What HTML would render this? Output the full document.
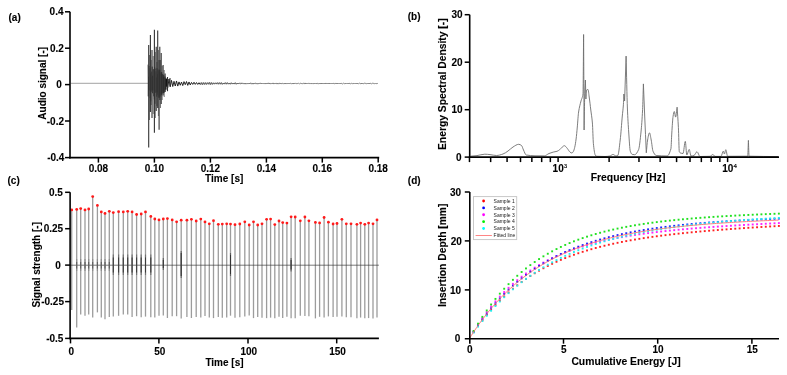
<!DOCTYPE html>
<html><head><meta charset="utf-8"><style>
html,body{margin:0;padding:0;background:#fff;}
svg{display:block;will-change:transform;font-family:"Liberation Sans",sans-serif;}
</style></head><body>
<svg width="787" height="375" viewBox="0 0 787 375">
<rect width="787" height="375" fill="#fff"/>
<text x="8.5" y="20.6" font-size="10" text-anchor="start" font-weight="bold" fill="#000" stroke="#000" stroke-width="0.1" >(a)</text>
<polyline points="70.8,83.3 148,83.3" fill="none" stroke="#8a8a8a" stroke-width="0.8" stroke-linejoin="round" />
<polyline points="166.5,79.35 167.75,87.56 169,79 170.25,86.77 171.5,80.39 172.75,86.52 174,81.31 175.25,86.02 176.5,80.98 177.75,86.08 179,81.91 180.25,85.24 181.5,82.08 182.75,85.58 184,81.63 185.25,84.68 186.5,81.54 187.75,85.37 189,81.96 190.25,84.95 191.5,82.45 192.75,84.41 194,82.26 195.25,84.38 196.5,82.56 197.75,84.45 199,82.71 200.25,84.54" fill="none" stroke="#1a1a1a" stroke-width="0.95" stroke-linejoin="round" />
<polyline points="200.25,84.54 201.25,82.5 202.25,84.72 203.25,82.49 204.25,84.56 205.25,82.54 206.25,84.53 207.25,82.59 208.25,84.3 209.25,82.34 210.25,84.64 211.25,82.46 212.25,84.46 213.25,82.74 214.25,84.2 215.25,82.78 216.25,84.11 217.25,82.58 218.25,84.25 219.25,82.56 220.25,84.22 221.25,82.54 222.25,84.4 223.25,82.97 224.25,84.11 225.25,82.6 226.25,84.21 227.25,82.59 228.25,84.16 229.25,82.98 230.25,84.24 231.25,82.71 232.25,84.09 233.25,82.99 234.25,84.1 235.25,82.67 236.25,84.25 237.25,83 238.25,84.04 239.25,83.01 240.25,83.97" fill="none" stroke="#2e2e2e" stroke-width="0.8" stroke-linejoin="round" />
<polyline points="240.25,83.97 241.05,82.77 241.85,84 242.65,82.86 243.45,84.09 244.25,83 245.05,84.18 245.85,83.03 246.65,84.14 247.45,83.04 248.25,84.06 249.05,83.01 249.85,84 250.65,82.77 251.45,84.17 252.25,82.99 253.05,84.19 253.85,83.03 254.65,84.03 255.45,82.83 256.25,84.1 257.05,83.08 257.85,84.2 258.65,83.04 259.45,83.97 260.25,82.87 261.05,83.98 261.85,83.03 262.65,83.9 263.45,83.1 264.25,84.05 265.05,83.05 265.85,84.05 266.65,83.02 267.45,84 268.25,82.85 269.05,84.01 269.85,82.97 270.65,84.12 271.45,83.09 272.25,83.9 273.05,82.88 273.85,84.09 274.65,83.07 275.45,83.91 276.25,82.94 277.05,84.12 277.85,83.1 278.65,84.12 279.45,82.9 280.25,84.01 281.05,83.04 281.85,83.87 282.65,83.15 283.45,84.11 284.25,83.1 285.05,84.03 285.85,83.09 286.65,84.06 287.45,83 288.25,83.91 289.05,83.12 289.85,84.03 290.65,83.15 291.45,83.89 292.25,83.02 293.05,84.06 293.85,83.01 294.65,83.9 295.45,82.93 296.25,83.88 297.05,83.17 297.85,83.89 298.65,83.06 299.45,83.84 300.25,83.13 301.05,83.91 301.85,83.03 302.65,83.85 303.45,83.09 304.25,84.05 305.05,82.93 305.85,83.98 306.65,83.01 307.45,83.96 308.25,83.15 309.05,83.82 309.85,83.18 310.65,84.04 311.45,83.01 312.25,84.05 313.05,83.19 313.85,83.97 314.65,83.07 315.45,83.99 316.25,83.11 317.05,84.06 317.85,83.18 318.65,83.94 319.45,83.01 320.25,84.03 321.05,83.01 321.85,83.98 322.65,83 323.45,84.03 324.25,83.11 325.05,83.97 325.85,82.98 326.65,84.01 327.45,83.1 328.25,83.99 329.05,82.99 329.85,83.94 330.65,83.05 331.45,83.89 332.25,83.06 333.05,83.94 333.85,83.18 334.65,83.95 335.45,82.96 336.25,84.01 337.05,83.03 337.85,83.89 338.65,83.03 339.45,83.93 340.25,83.1 341.05,83.99 341.85,83.19 342.65,83.97 343.45,83.2 344.25,83.94 345.05,83.09 345.85,83.85 346.65,83.04 347.45,83.91 348.25,83.06 349.05,84.01 349.85,83.15 350.65,83.79 351.45,83.14 352.25,83.95 353.05,83.16 353.85,83.83 354.65,83 355.45,83.94 356.25,83.11 357.05,84 357.85,83.14 358.65,83.94 359.45,83.17 360.25,83.89 361.05,83.02 361.85,84 362.65,83.01 363.45,83.88 364.25,83.08 365.05,83.86 365.85,83.18 366.65,83.9 367.45,83.02 368.25,83.98 369.05,83.05 369.85,84.01 370.65,83.15 371.45,83.82 372.25,83.11 373.05,83.85 373.85,83.17 374.65,83.88 375.45,83.07 376.25,83.9 377.05,83.14 377.85,83.98" fill="none" stroke="#555" stroke-width="0.7" stroke-linejoin="round" />
<polyline points="148,64.64 148.3,96.35 148.6,76.71 148.9,90.16 149.2,66.09 149.5,90.31 149.8,68.28 150.1,98.09 150.4,73.59 150.7,101.34 151,77.45 151.3,91.7 151.6,71.65 151.9,90.06 152.2,66.67 152.5,93.19 152.8,75.83 153.1,90.39 153.4,69.33 153.7,96.26 154,69.32 154.3,99.33 154.6,66.96 154.9,103.79 155.2,68.6 155.5,92.63 155.8,71.38 156.1,92.33 156.4,77.56 156.7,96.64 157,68.2 157.3,92.33 157.6,74.08 157.9,94.78" fill="none" stroke="#1e1e1e" stroke-width="0.65" stroke-linejoin="round" />
<polyline points="157.9,94.78 158.2,69.56 158.4,96.73 158.6,70.5 158.8,97.84 159,72.23 159.2,97.61 159.4,69.68 159.6,92.92 159.8,70.02 160,96.29 160.2,74.76 160.4,94.34 160.6,72.56 160.8,96.41 161,74.2 161.2,94.16 161.4,72.22 161.6,94.88 161.8,72.4 162,92.83 162.2,74.15 162.4,91.24 162.6,74.29 162.8,93.6 163,75.05 163.2,92.71 163.4,77.06 163.6,93 163.8,74.72 164,92.81 164.2,76.68 164.4,91.65 164.6,77.76 164.8,91.59 165,76.57 165.2,89.32 165.4,79.13 165.6,89.22 165.8,78.27 166,89.75 166.2,79.43 166.4,86.46 166.6,78.78 166.8,86.53 167,78.8" fill="none" stroke="#111" stroke-width="0.6" stroke-linejoin="round" />
<line x1="149.5" y1="55" x2="149.5" y2="120" stroke="#555" stroke-width="0.8" />
<line x1="151.2" y1="60" x2="151.2" y2="105" stroke="#555" stroke-width="0.8" />
<line x1="153.2" y1="56" x2="153.2" y2="114" stroke="#555" stroke-width="0.8" />
<line x1="155.3" y1="52" x2="155.3" y2="118" stroke="#555" stroke-width="0.8" />
<line x1="156.9" y1="62" x2="156.9" y2="106" stroke="#555" stroke-width="0.8" />
<line x1="158.4" y1="50" x2="158.4" y2="116" stroke="#555" stroke-width="0.8" />
<line x1="160.5" y1="60" x2="160.5" y2="108" stroke="#555" stroke-width="0.8" />
<line x1="162.2" y1="66" x2="162.2" y2="100" stroke="#555" stroke-width="0.8" />
<line x1="164.2" y1="70" x2="164.2" y2="97" stroke="#555" stroke-width="0.8" />
<line x1="148.7" y1="45" x2="148.7" y2="147.4" stroke="#333" stroke-width="1.1" />
<line x1="150.4" y1="35" x2="150.4" y2="112" stroke="#333" stroke-width="1.1" />
<line x1="152" y1="50" x2="152" y2="118" stroke="#333" stroke-width="1.1" />
<line x1="154.4" y1="29.8" x2="154.4" y2="132.7" stroke="#333" stroke-width="1.1" />
<line x1="156.2" y1="46.7" x2="156.2" y2="111" stroke="#333" stroke-width="1.1" />
<line x1="157.7" y1="30.6" x2="157.7" y2="108" stroke="#333" stroke-width="1.1" />
<line x1="159.1" y1="60" x2="159.1" y2="129.7" stroke="#333" stroke-width="1.1" />
<line x1="159.8" y1="46.7" x2="159.8" y2="100" stroke="#333" stroke-width="1.1" />
<line x1="161.2" y1="53" x2="161.2" y2="104" stroke="#333" stroke-width="1.1" />
<line x1="163.1" y1="65" x2="163.1" y2="95.4" stroke="#333" stroke-width="1.1" />
<line x1="165.1" y1="73.6" x2="165.1" y2="92" stroke="#333" stroke-width="1.1" />
<line x1="167.5" y1="77" x2="167.5" y2="91.2" stroke="#333" stroke-width="1.1" />
<line x1="170" y1="78" x2="170" y2="86.4" stroke="#333" stroke-width="1.1" />
<line x1="70" y1="11.8" x2="70" y2="158.4" stroke="#000" stroke-width="1.6" />
<line x1="69.2" y1="157.6" x2="379.2" y2="157.6" stroke="#000" stroke-width="1.6" />
<line x1="65" y1="11.8" x2="70" y2="11.8" stroke="#000" stroke-width="1.5" />
<text x="63.5" y="15.3" font-size="10" text-anchor="end" font-weight="bold" fill="#000" stroke="#000" stroke-width="0.1" >0.4</text>
<line x1="65" y1="48.2" x2="70" y2="48.2" stroke="#000" stroke-width="1.5" />
<text x="63.8" y="51.7" font-size="10" text-anchor="end" font-weight="bold" fill="#000" stroke="#000" stroke-width="0.1" >0.2</text>
<line x1="65" y1="84.6" x2="70" y2="84.6" stroke="#000" stroke-width="1.5" />
<text x="61.9" y="88.1" font-size="10" text-anchor="end" font-weight="bold" fill="#000" stroke="#000" stroke-width="0.1" >0</text>
<line x1="65" y1="121" x2="70" y2="121" stroke="#000" stroke-width="1.5" />
<text x="64" y="124.5" font-size="10" text-anchor="end" font-weight="bold" fill="#000" stroke="#000" stroke-width="0.1" >-0.2</text>
<line x1="65" y1="157.6" x2="70" y2="157.6" stroke="#000" stroke-width="1.5" />
<text x="64.4" y="161.1" font-size="10" text-anchor="end" font-weight="bold" fill="#000" stroke="#000" stroke-width="0.1" >-0.4</text>
<line x1="98.4" y1="157.6" x2="98.4" y2="162.6" stroke="#000" stroke-width="1.5" />
<text x="98.4" y="171.8" font-size="10" text-anchor="middle" font-weight="bold" fill="#000" stroke="#000" stroke-width="0.1" >0.08</text>
<line x1="154.4" y1="157.6" x2="154.4" y2="162.6" stroke="#000" stroke-width="1.5" />
<text x="154.4" y="171.8" font-size="10" text-anchor="middle" font-weight="bold" fill="#000" stroke="#000" stroke-width="0.1" >0.10</text>
<line x1="210.4" y1="157.6" x2="210.4" y2="162.6" stroke="#000" stroke-width="1.5" />
<text x="210.4" y="171.8" font-size="10" text-anchor="middle" font-weight="bold" fill="#000" stroke="#000" stroke-width="0.1" >0.12</text>
<line x1="266.4" y1="157.6" x2="266.4" y2="162.6" stroke="#000" stroke-width="1.5" />
<text x="266.4" y="171.8" font-size="10" text-anchor="middle" font-weight="bold" fill="#000" stroke="#000" stroke-width="0.1" >0.14</text>
<line x1="322.3" y1="157.6" x2="322.3" y2="162.6" stroke="#000" stroke-width="1.5" />
<text x="322.3" y="171.8" font-size="10" text-anchor="middle" font-weight="bold" fill="#000" stroke="#000" stroke-width="0.1" >0.16</text>
<line x1="378.2" y1="157.6" x2="378.2" y2="162.6" stroke="#000" stroke-width="1.5" />
<text x="378.2" y="171.8" font-size="10" text-anchor="middle" font-weight="bold" fill="#000" stroke="#000" stroke-width="0.1" >0.18</text>
<text x="224.2" y="182" font-size="10" text-anchor="middle" font-weight="bold" fill="#000" stroke="#000" stroke-width="0.1" >Time [s]</text>
<text x="46.2" y="83.3" font-size="10" text-anchor="middle" font-weight="bold" fill="#000" stroke="#000" stroke-width="0.1" transform="rotate(-90 46.2 83.3)" >Audio signal [-]</text>
<text x="407.7" y="20.2" font-size="10" text-anchor="start" font-weight="bold" fill="#000" stroke="#000" stroke-width="0.1" >(b)</text>
<path d="M470.5,156.2 C472.67,156 474.83,155.86 477,155.6 C479.6,155.28 482.2,154.2 484.8,154.2 C486.53,154.2 488.27,154.43 490,154.6 C492.13,154.81 494.27,155.5 496.4,155.5 C498.6,155.5 500.8,154.73 503,154 C504.67,153.45 506.33,152.14 508,151 C509.67,149.86 511.33,147.99 513,147 C514.9,145.87 516.8,144.3 518.7,144.3 C519.63,144.3 520.57,144.83 521.5,145.5 C522.17,145.98 522.83,148.65 523.5,150 C524.4,151.83 525.3,154.84 526.2,155 C529.13,155.51 532.07,155.74 535,155.8 C538.1,155.86 541.2,155.9 544.3,155.9 C545.87,155.9 547.43,154.13 549,153.5 C550.4,152.94 551.8,152.46 553.2,152.1 C554.47,151.77 555.73,151.69 557,151.3 C557.9,151.02 558.8,150.38 559.7,149.7 C560.5,149.1 561.3,147.84 562.1,147.2 C562.87,146.59 563.63,145.7 564.4,145.7 C565.33,145.7 566.27,147.27 567.2,148.3 C568.13,149.33 569.07,151.44 570,152.1 C570.63,152.54 571.27,153 571.9,153 C572.37,153 572.83,152.3 573.3,151.6 C573.77,150.9 574.23,149.27 574.7,147.4 C575.17,145.53 575.63,142.5 576.1,139 C576.5,136 576.9,131.29 577.3,127 C577.73,122.36 578.17,114.84 578.6,112 C579.4,106.75 580.2,104.18 581,101 C581.67,98.35 582.33,98.51 583,94 C583.2,92.65 583.4,54.33 583.6,34.5 C583.77,66.33 583.93,98.17 584.1,130 C584.3,118.67 584.5,102.51 584.7,96 C584.93,88.4 585.17,85.33 585.4,80 C585.57,86.33 585.73,92.67 585.9,99 C586.13,96 586.37,90.16 586.6,90 C587.07,89.68 587.53,89.5 588,89.5 C588.4,89.5 588.8,94.17 589.2,97 C589.73,100.77 590.27,105.67 590.8,110 C591.33,114.33 591.87,116.78 592.4,123 C592.73,126.89 593.07,140.51 593.4,143.7 C594,149.44 594.6,153.87 595.2,154.9 C595.67,155.7 596.13,156.28 596.6,156.3 C599.4,156.43 602.2,156.5 605,156.5 C606.67,156.5 608.33,156.28 610,156 C611,155.83 612,154.4 613,154.4 C614,154.4 615,156 616,156 C616.6,156 617.2,155.82 617.8,155.5 C618.6,155.07 619.4,146.6 620.2,140 C620.9,134.22 621.6,123.54 622.3,116 C622.67,112.05 623.03,109.87 623.4,104.8 C623.57,102.49 623.73,97.6 623.9,94 C624.13,96.33 624.37,98.67 624.6,101 C625.1,86.03 625.6,71.07 626.1,56.1 C626.53,73.4 626.97,97.06 627.4,108 C627.83,118.94 628.27,125.7 628.7,132 C629.23,139.76 629.77,149.62 630.3,151.2 C630.93,153.07 631.57,154.26 632.2,154.4 C633.03,154.59 633.87,154.7 634.7,154.7 C636,154.7 637.3,152.49 638.6,149.6 C639.4,147.82 640.2,139.7 641,132 C641.53,126.87 642.07,120 642.6,109.6 C642.87,104.4 643.13,92.47 643.4,83.9 C643.83,94.6 644.27,105.68 644.7,116 C645.23,128.7 645.77,140.53 646.3,152.8 C646.73,148.53 647.17,142.37 647.6,140 C648.23,136.53 648.87,132.8 649.5,132.8 C650.07,132.8 650.63,137.14 651.2,140 C651.8,143.02 652.4,149.87 653,151.2 C654.07,153.56 655.13,155.41 656.2,155.5 C659.83,155.82 663.47,156 667.1,156 C668.37,156 669.63,153.18 670.9,148.9 C671.2,147.89 671.5,137.48 671.8,133 C672.23,126.53 672.67,118.8 673.1,116.2 C673.5,113.8 673.9,111.5 674.3,111.5 C674.73,111.5 675.17,117.1 675.6,117.1 C676.1,117.1 676.6,110.5 677.1,107.2 C677.53,113.93 677.97,118.85 678.4,127.4 C678.7,133.32 679,151.08 679.3,151.7 C679.7,152.53 680.1,152.86 680.5,153 C681.33,153.28 682.17,153.5 683,153.5 C683.77,153.5 684.53,141.4 685.3,141.4 C685.8,141.4 686.3,155 686.8,155 C687.6,155 688.4,149.4 689.2,149.4 C689.8,149.4 690.4,156 691,156 C692,156 693,155.79 694,155.5 C695,155.21 696,151.7 697,151.7 C698,151.7 699,156.5 700,156.5 C703.33,156.5 706.67,156.43 710,156.3 C710.97,156.26 711.93,154.5 712.9,154.5 C713.6,154.5 714.3,156.4 715,156.4 C717,156.4 719,156.4 721,156.4 C721.77,156.4 722.53,151.1 723.3,151.1 C723.67,151.1 724.03,154 724.4,154 C724.87,154 725.33,149.7 725.8,149.7 C726.4,149.7 727,156.3 727.6,156.3 C734.3,156.3 741,156.27 747.7,156.2 C747.93,156.2 748.17,145.67 748.4,140.4 C748.63,145.67 748.87,156.19 749.1,156.2 C758.73,156.47 768.37,156.47 778,156.6" fill="none" stroke="#6e6e6e" stroke-width="0.9" stroke-linejoin="round"/>
<line x1="469.7" y1="14.7" x2="469.7" y2="157.9" stroke="#000" stroke-width="1.6" />
<line x1="468.9" y1="157.1" x2="779" y2="157.1" stroke="#000" stroke-width="1.6" />
<line x1="464.7" y1="14.7" x2="469.7" y2="14.7" stroke="#000" stroke-width="1.5" />
<text x="462.7" y="18.2" font-size="10" text-anchor="end" font-weight="bold" fill="#000" stroke="#000" stroke-width="0.1" >30</text>
<line x1="464.7" y1="62.2" x2="469.7" y2="62.2" stroke="#000" stroke-width="1.5" />
<text x="462.7" y="65.7" font-size="10" text-anchor="end" font-weight="bold" fill="#000" stroke="#000" stroke-width="0.1" >20</text>
<line x1="464.7" y1="109.7" x2="469.7" y2="109.7" stroke="#000" stroke-width="1.5" />
<text x="462.7" y="113.2" font-size="10" text-anchor="end" font-weight="bold" fill="#000" stroke="#000" stroke-width="0.1" >10</text>
<line x1="464.7" y1="157.1" x2="469.7" y2="157.1" stroke="#000" stroke-width="1.5" />
<text x="461.6" y="160.6" font-size="10" text-anchor="end" font-weight="bold" fill="#000" stroke="#000" stroke-width="0.1" >0</text>
<line x1="469.47" y1="157.1" x2="469.47" y2="162.1" stroke="#000" stroke-width="1.5" />
<line x1="490.65" y1="157.1" x2="490.65" y2="162.1" stroke="#000" stroke-width="1.5" />
<line x1="507.08" y1="157.1" x2="507.08" y2="162.1" stroke="#000" stroke-width="1.5" />
<line x1="520.5" y1="157.1" x2="520.5" y2="162.1" stroke="#000" stroke-width="1.5" />
<line x1="531.84" y1="157.1" x2="531.84" y2="162.1" stroke="#000" stroke-width="1.5" />
<line x1="541.67" y1="157.1" x2="541.67" y2="162.1" stroke="#000" stroke-width="1.5" />
<line x1="550.34" y1="157.1" x2="550.34" y2="162.1" stroke="#000" stroke-width="1.5" />
<line x1="558.1" y1="157.1" x2="558.1" y2="162.1" stroke="#000" stroke-width="1.5" />
<line x1="609.12" y1="157.1" x2="609.12" y2="162.1" stroke="#000" stroke-width="1.5" />
<line x1="638.97" y1="157.1" x2="638.97" y2="162.1" stroke="#000" stroke-width="1.5" />
<line x1="660.15" y1="157.1" x2="660.15" y2="162.1" stroke="#000" stroke-width="1.5" />
<line x1="676.58" y1="157.1" x2="676.58" y2="162.1" stroke="#000" stroke-width="1.5" />
<line x1="690" y1="157.1" x2="690" y2="162.1" stroke="#000" stroke-width="1.5" />
<line x1="701.34" y1="157.1" x2="701.34" y2="162.1" stroke="#000" stroke-width="1.5" />
<line x1="711.17" y1="157.1" x2="711.17" y2="162.1" stroke="#000" stroke-width="1.5" />
<line x1="719.84" y1="157.1" x2="719.84" y2="162.1" stroke="#000" stroke-width="1.5" />
<line x1="727.6" y1="157.1" x2="727.6" y2="162.1" stroke="#000" stroke-width="1.5" />
<text x="552.6" y="172.1" font-size="10" text-anchor="start" font-weight="bold" fill="#000" stroke="#000" stroke-width="0.1" >10<tspan font-size="6.2" font-weight="normal" stroke-width="0.15" dy="-3.7">3</tspan></text>
<text x="722.3" y="172.1" font-size="10" text-anchor="start" font-weight="bold" fill="#000" stroke="#000" stroke-width="0.1" >10<tspan font-size="6.2" font-weight="normal" stroke-width="0.15" dy="-3.7">4</tspan></text>
<text x="628.1" y="181.2" font-size="10.35" text-anchor="middle" font-weight="bold" fill="#000" stroke="#000" stroke-width="0.1" >Frequency [Hz]</text>
<text x="445.9" y="84.2" font-size="10.3" text-anchor="middle" font-weight="bold" fill="#000" stroke="#000" stroke-width="0.1" transform="rotate(-90 445.9 84.2)" >Energy Spectral Density [-]</text>
<text x="7.5" y="184.2" font-size="10" text-anchor="start" font-weight="bold" fill="#000" stroke="#000" stroke-width="0.1" >(c)</text>
<line x1="71.7" y1="209.9" x2="71.7" y2="310" stroke="#9c9c9c" stroke-width="1.3" />
<line x1="76.7" y1="209.4" x2="76.7" y2="327.5" stroke="#9c9c9c" stroke-width="1.3" />
<line x1="80.7" y1="208.6" x2="80.7" y2="314.6" stroke="#9c9c9c" stroke-width="1.3" />
<line x1="85" y1="209.9" x2="85" y2="315.8" stroke="#9c9c9c" stroke-width="1.3" />
<line x1="88.7" y1="209" x2="88.7" y2="314.6" stroke="#9c9c9c" stroke-width="1.3" />
<line x1="92.7" y1="196.6" x2="92.7" y2="317.6" stroke="#9c9c9c" stroke-width="1.3" />
<line x1="97.4" y1="205.4" x2="97.4" y2="312.4" stroke="#9c9c9c" stroke-width="1.3" />
<line x1="101.3" y1="211.9" x2="101.3" y2="317.6" stroke="#9c9c9c" stroke-width="1.3" />
<line x1="105" y1="213.4" x2="105" y2="319.2" stroke="#9c9c9c" stroke-width="1.3" />
<line x1="109.3" y1="211.3" x2="109.3" y2="316.9" stroke="#9c9c9c" stroke-width="1.3" />
<line x1="113.3" y1="212.6" x2="113.3" y2="316.4" stroke="#9c9c9c" stroke-width="1.3" />
<line x1="118.6" y1="211.7" x2="118.6" y2="315.8" stroke="#9c9c9c" stroke-width="1.3" />
<line x1="123.3" y1="211.9" x2="123.3" y2="314.6" stroke="#9c9c9c" stroke-width="1.3" />
<line x1="127.7" y1="211.3" x2="127.7" y2="314.6" stroke="#9c9c9c" stroke-width="1.3" />
<line x1="132.1" y1="211.9" x2="132.1" y2="316.9" stroke="#9c9c9c" stroke-width="1.3" />
<line x1="136.6" y1="214.5" x2="136.6" y2="316.21" stroke="#9c9c9c" stroke-width="1.3" />
<line x1="141.2" y1="214" x2="141.2" y2="317.13" stroke="#9c9c9c" stroke-width="1.3" />
<line x1="145.5" y1="211.9" x2="145.5" y2="316.61" stroke="#9c9c9c" stroke-width="1.3" />
<line x1="150.8" y1="216.4" x2="150.8" y2="317.31" stroke="#9c9c9c" stroke-width="1.3" />
<line x1="154.8" y1="219" x2="154.8" y2="317.38" stroke="#9c9c9c" stroke-width="1.3" />
<line x1="159" y1="219.9" x2="159" y2="315.7" stroke="#9c9c9c" stroke-width="1.3" />
<line x1="163.3" y1="219" x2="163.3" y2="315.54" stroke="#9c9c9c" stroke-width="1.3" />
<line x1="167.4" y1="218.6" x2="167.4" y2="318.01" stroke="#9c9c9c" stroke-width="1.3" />
<line x1="172.2" y1="219.9" x2="172.2" y2="316.28" stroke="#9c9c9c" stroke-width="1.3" />
<line x1="176.6" y1="221.8" x2="176.6" y2="316.2" stroke="#9c9c9c" stroke-width="1.3" />
<line x1="181.2" y1="220.2" x2="181.2" y2="318.49" stroke="#9c9c9c" stroke-width="1.3" />
<line x1="186.9" y1="220.2" x2="186.9" y2="316.91" stroke="#9c9c9c" stroke-width="1.3" />
<line x1="191.4" y1="219.3" x2="191.4" y2="318.01" stroke="#9c9c9c" stroke-width="1.3" />
<line x1="196.2" y1="221" x2="196.2" y2="316.93" stroke="#9c9c9c" stroke-width="1.3" />
<line x1="200.8" y1="219.1" x2="200.8" y2="317.42" stroke="#9c9c9c" stroke-width="1.3" />
<line x1="205" y1="221.9" x2="205" y2="315.95" stroke="#9c9c9c" stroke-width="1.3" />
<line x1="209.3" y1="223.8" x2="209.3" y2="317.4" stroke="#9c9c9c" stroke-width="1.3" />
<line x1="213.5" y1="220.7" x2="213.5" y2="318.1" stroke="#9c9c9c" stroke-width="1.3" />
<line x1="218.3" y1="224.3" x2="218.3" y2="317.07" stroke="#9c9c9c" stroke-width="1.3" />
<line x1="222.3" y1="224.1" x2="222.3" y2="317.72" stroke="#9c9c9c" stroke-width="1.3" />
<line x1="226.7" y1="223.8" x2="226.7" y2="317.51" stroke="#9c9c9c" stroke-width="1.3" />
<line x1="230.5" y1="224.1" x2="230.5" y2="315.69" stroke="#9c9c9c" stroke-width="1.3" />
<line x1="235" y1="224.7" x2="235" y2="317.77" stroke="#9c9c9c" stroke-width="1.3" />
<line x1="239.8" y1="224" x2="239.8" y2="317.27" stroke="#9c9c9c" stroke-width="1.3" />
<line x1="244.8" y1="221.8" x2="244.8" y2="316.4" stroke="#9c9c9c" stroke-width="1.3" />
<line x1="249.2" y1="225" x2="249.2" y2="315.59" stroke="#9c9c9c" stroke-width="1.3" />
<line x1="253.5" y1="221.8" x2="253.5" y2="318.1" stroke="#9c9c9c" stroke-width="1.3" />
<line x1="257.7" y1="225" x2="257.7" y2="316.92" stroke="#9c9c9c" stroke-width="1.3" />
<line x1="262" y1="223.8" x2="262" y2="317.66" stroke="#9c9c9c" stroke-width="1.3" />
<line x1="266.6" y1="219.3" x2="266.6" y2="318.14" stroke="#9c9c9c" stroke-width="1.3" />
<line x1="270.6" y1="219.1" x2="270.6" y2="317.64" stroke="#9c9c9c" stroke-width="1.3" />
<line x1="274.8" y1="224.6" x2="274.8" y2="318.26" stroke="#9c9c9c" stroke-width="1.3" />
<line x1="279" y1="221" x2="279" y2="316.68" stroke="#9c9c9c" stroke-width="1.3" />
<line x1="282.7" y1="222.6" x2="282.7" y2="317.9" stroke="#9c9c9c" stroke-width="1.3" />
<line x1="286.9" y1="223.1" x2="286.9" y2="316.83" stroke="#9c9c9c" stroke-width="1.3" />
<line x1="291.1" y1="216.8" x2="291.1" y2="318.31" stroke="#9c9c9c" stroke-width="1.3" />
<line x1="295.2" y1="217" x2="295.2" y2="318.14" stroke="#9c9c9c" stroke-width="1.3" />
<line x1="300.3" y1="220.8" x2="300.3" y2="315.79" stroke="#9c9c9c" stroke-width="1.3" />
<line x1="304.9" y1="217" x2="304.9" y2="315.91" stroke="#9c9c9c" stroke-width="1.3" />
<line x1="308.9" y1="220.8" x2="308.9" y2="316.15" stroke="#9c9c9c" stroke-width="1.3" />
<line x1="315.4" y1="222.4" x2="315.4" y2="318.4" stroke="#9c9c9c" stroke-width="1.3" />
<line x1="319.6" y1="222.9" x2="319.6" y2="316.81" stroke="#9c9c9c" stroke-width="1.3" />
<line x1="324.1" y1="217.5" x2="324.1" y2="317.38" stroke="#9c9c9c" stroke-width="1.3" />
<line x1="328.4" y1="222.2" x2="328.4" y2="316.4" stroke="#9c9c9c" stroke-width="1.3" />
<line x1="333.1" y1="224" x2="333.1" y2="317.02" stroke="#9c9c9c" stroke-width="1.3" />
<line x1="337" y1="223.5" x2="337" y2="316.66" stroke="#9c9c9c" stroke-width="1.3" />
<line x1="341.9" y1="219.3" x2="341.9" y2="316.55" stroke="#9c9c9c" stroke-width="1.3" />
<line x1="346.3" y1="223.8" x2="346.3" y2="317.26" stroke="#9c9c9c" stroke-width="1.3" />
<line x1="351" y1="223.8" x2="351" y2="317.25" stroke="#9c9c9c" stroke-width="1.3" />
<line x1="356.9" y1="224.3" x2="356.9" y2="318.21" stroke="#9c9c9c" stroke-width="1.3" />
<line x1="360.6" y1="223.1" x2="360.6" y2="317.55" stroke="#9c9c9c" stroke-width="1.3" />
<line x1="364.8" y1="224.3" x2="364.8" y2="318.29" stroke="#9c9c9c" stroke-width="1.3" />
<line x1="368.6" y1="223.1" x2="368.6" y2="318.07" stroke="#9c9c9c" stroke-width="1.3" />
<line x1="373" y1="223.8" x2="373" y2="318.47" stroke="#9c9c9c" stroke-width="1.3" />
<line x1="377" y1="219.9" x2="377" y2="317.51" stroke="#9c9c9c" stroke-width="1.3" />
<line x1="70.1" y1="265.2" x2="378.9" y2="265.2" stroke="#333" stroke-width="0.65" />
<line x1="76.7" y1="259" x2="76.7" y2="271" stroke="#8a8a8a" stroke-width="1.1" />
<line x1="76.7" y1="262" x2="76.7" y2="268.5" stroke="#5a5a5a" stroke-width="1.0" />
<line x1="80.7" y1="259" x2="80.7" y2="271" stroke="#8a8a8a" stroke-width="1.1" />
<line x1="80.7" y1="262" x2="80.7" y2="268.5" stroke="#5a5a5a" stroke-width="1.0" />
<line x1="85" y1="259" x2="85" y2="271" stroke="#8a8a8a" stroke-width="1.1" />
<line x1="85" y1="262" x2="85" y2="268.5" stroke="#5a5a5a" stroke-width="1.0" />
<line x1="88.7" y1="259" x2="88.7" y2="271" stroke="#8a8a8a" stroke-width="1.1" />
<line x1="88.7" y1="262" x2="88.7" y2="268.5" stroke="#5a5a5a" stroke-width="1.0" />
<line x1="92.7" y1="259" x2="92.7" y2="271" stroke="#8a8a8a" stroke-width="1.1" />
<line x1="92.7" y1="262" x2="92.7" y2="268.5" stroke="#5a5a5a" stroke-width="1.0" />
<line x1="97.4" y1="259" x2="97.4" y2="271" stroke="#8a8a8a" stroke-width="1.1" />
<line x1="97.4" y1="262" x2="97.4" y2="268.5" stroke="#5a5a5a" stroke-width="1.0" />
<line x1="101.3" y1="259" x2="101.3" y2="271" stroke="#8a8a8a" stroke-width="1.1" />
<line x1="101.3" y1="262" x2="101.3" y2="268.5" stroke="#5a5a5a" stroke-width="1.0" />
<line x1="105" y1="259" x2="105" y2="271" stroke="#8a8a8a" stroke-width="1.1" />
<line x1="105" y1="262" x2="105" y2="268.5" stroke="#5a5a5a" stroke-width="1.0" />
<line x1="109.3" y1="259" x2="109.3" y2="271" stroke="#8a8a8a" stroke-width="1.1" />
<line x1="109.3" y1="262" x2="109.3" y2="268.5" stroke="#5a5a5a" stroke-width="1.0" />
<line x1="113.3" y1="254.5" x2="113.3" y2="275" stroke="#707070" stroke-width="1.1" />
<line x1="113.3" y1="257.5" x2="113.3" y2="272.5" stroke="#3a3a3a" stroke-width="1.0" />
<line x1="118.6" y1="254.5" x2="118.6" y2="275" stroke="#707070" stroke-width="1.1" />
<line x1="118.6" y1="257.5" x2="118.6" y2="272.5" stroke="#3a3a3a" stroke-width="1.0" />
<line x1="123.3" y1="254.5" x2="123.3" y2="275" stroke="#707070" stroke-width="1.1" />
<line x1="123.3" y1="257.5" x2="123.3" y2="272.5" stroke="#3a3a3a" stroke-width="1.0" />
<line x1="127.7" y1="254.5" x2="127.7" y2="275" stroke="#707070" stroke-width="1.1" />
<line x1="127.7" y1="257.5" x2="127.7" y2="272.5" stroke="#3a3a3a" stroke-width="1.0" />
<line x1="132.1" y1="254.5" x2="132.1" y2="275" stroke="#707070" stroke-width="1.1" />
<line x1="132.1" y1="257.5" x2="132.1" y2="272.5" stroke="#3a3a3a" stroke-width="1.0" />
<line x1="136.6" y1="254.5" x2="136.6" y2="275" stroke="#707070" stroke-width="1.1" />
<line x1="136.6" y1="257.5" x2="136.6" y2="272.5" stroke="#3a3a3a" stroke-width="1.0" />
<line x1="141.2" y1="254.5" x2="141.2" y2="275" stroke="#707070" stroke-width="1.1" />
<line x1="141.2" y1="257.5" x2="141.2" y2="272.5" stroke="#3a3a3a" stroke-width="1.0" />
<line x1="145.5" y1="254.5" x2="145.5" y2="275" stroke="#707070" stroke-width="1.1" />
<line x1="145.5" y1="257.5" x2="145.5" y2="272.5" stroke="#3a3a3a" stroke-width="1.0" />
<line x1="150.8" y1="254.5" x2="150.8" y2="275" stroke="#707070" stroke-width="1.1" />
<line x1="150.8" y1="257.5" x2="150.8" y2="272.5" stroke="#3a3a3a" stroke-width="1.0" />
<line x1="163.3" y1="258" x2="163.3" y2="270" stroke="#606060" stroke-width="1.1" />
<line x1="163.3" y1="260" x2="163.3" y2="268" stroke="#333" stroke-width="1.0" />
<line x1="181.2" y1="251" x2="181.2" y2="278" stroke="#606060" stroke-width="1.1" />
<line x1="181.2" y1="253" x2="181.2" y2="276" stroke="#333" stroke-width="1.0" />
<line x1="230.5" y1="253" x2="230.5" y2="276" stroke="#606060" stroke-width="1.1" />
<line x1="230.5" y1="255" x2="230.5" y2="274" stroke="#333" stroke-width="1.0" />
<line x1="291.1" y1="258" x2="291.1" y2="271.5" stroke="#606060" stroke-width="1.1" />
<line x1="291.1" y1="260" x2="291.1" y2="269.5" stroke="#333" stroke-width="1.0" />
<circle cx="71.7" cy="209.9" r="1.4" fill="#ff1a1a"/>
<circle cx="76.7" cy="209.4" r="1.4" fill="#ff1a1a"/>
<circle cx="80.7" cy="208.6" r="1.4" fill="#ff1a1a"/>
<circle cx="85" cy="209.9" r="1.4" fill="#ff1a1a"/>
<circle cx="88.7" cy="209" r="1.4" fill="#ff1a1a"/>
<circle cx="92.7" cy="196.6" r="1.4" fill="#ff1a1a"/>
<circle cx="97.4" cy="205.4" r="1.4" fill="#ff1a1a"/>
<circle cx="101.3" cy="211.9" r="1.4" fill="#ff1a1a"/>
<circle cx="105" cy="213.4" r="1.4" fill="#ff1a1a"/>
<circle cx="109.3" cy="211.3" r="1.4" fill="#ff1a1a"/>
<circle cx="113.3" cy="212.6" r="1.4" fill="#ff1a1a"/>
<circle cx="118.6" cy="211.7" r="1.4" fill="#ff1a1a"/>
<circle cx="123.3" cy="211.9" r="1.4" fill="#ff1a1a"/>
<circle cx="127.7" cy="211.3" r="1.4" fill="#ff1a1a"/>
<circle cx="132.1" cy="211.9" r="1.4" fill="#ff1a1a"/>
<circle cx="136.6" cy="214.5" r="1.4" fill="#ff1a1a"/>
<circle cx="141.2" cy="214" r="1.4" fill="#ff1a1a"/>
<circle cx="145.5" cy="211.9" r="1.4" fill="#ff1a1a"/>
<circle cx="150.8" cy="216.4" r="1.4" fill="#ff1a1a"/>
<circle cx="154.8" cy="219" r="1.4" fill="#ff1a1a"/>
<circle cx="159" cy="219.9" r="1.4" fill="#ff1a1a"/>
<circle cx="163.3" cy="219" r="1.4" fill="#ff1a1a"/>
<circle cx="167.4" cy="218.6" r="1.4" fill="#ff1a1a"/>
<circle cx="172.2" cy="219.9" r="1.4" fill="#ff1a1a"/>
<circle cx="176.6" cy="221.8" r="1.4" fill="#ff1a1a"/>
<circle cx="181.2" cy="220.2" r="1.4" fill="#ff1a1a"/>
<circle cx="186.9" cy="220.2" r="1.4" fill="#ff1a1a"/>
<circle cx="191.4" cy="219.3" r="1.4" fill="#ff1a1a"/>
<circle cx="196.2" cy="221" r="1.4" fill="#ff1a1a"/>
<circle cx="200.8" cy="219.1" r="1.4" fill="#ff1a1a"/>
<circle cx="205" cy="221.9" r="1.4" fill="#ff1a1a"/>
<circle cx="209.3" cy="223.8" r="1.4" fill="#ff1a1a"/>
<circle cx="213.5" cy="220.7" r="1.4" fill="#ff1a1a"/>
<circle cx="218.3" cy="224.3" r="1.4" fill="#ff1a1a"/>
<circle cx="222.3" cy="224.1" r="1.4" fill="#ff1a1a"/>
<circle cx="226.7" cy="223.8" r="1.4" fill="#ff1a1a"/>
<circle cx="230.5" cy="224.1" r="1.4" fill="#ff1a1a"/>
<circle cx="235" cy="224.7" r="1.4" fill="#ff1a1a"/>
<circle cx="239.8" cy="224" r="1.4" fill="#ff1a1a"/>
<circle cx="244.8" cy="221.8" r="1.4" fill="#ff1a1a"/>
<circle cx="249.2" cy="225" r="1.4" fill="#ff1a1a"/>
<circle cx="253.5" cy="221.8" r="1.4" fill="#ff1a1a"/>
<circle cx="257.7" cy="225" r="1.4" fill="#ff1a1a"/>
<circle cx="262" cy="223.8" r="1.4" fill="#ff1a1a"/>
<circle cx="266.6" cy="219.3" r="1.4" fill="#ff1a1a"/>
<circle cx="270.6" cy="219.1" r="1.4" fill="#ff1a1a"/>
<circle cx="274.8" cy="224.6" r="1.4" fill="#ff1a1a"/>
<circle cx="279" cy="221" r="1.4" fill="#ff1a1a"/>
<circle cx="282.7" cy="222.6" r="1.4" fill="#ff1a1a"/>
<circle cx="286.9" cy="223.1" r="1.4" fill="#ff1a1a"/>
<circle cx="291.1" cy="216.8" r="1.4" fill="#ff1a1a"/>
<circle cx="295.2" cy="217" r="1.4" fill="#ff1a1a"/>
<circle cx="300.3" cy="220.8" r="1.4" fill="#ff1a1a"/>
<circle cx="304.9" cy="217" r="1.4" fill="#ff1a1a"/>
<circle cx="308.9" cy="220.8" r="1.4" fill="#ff1a1a"/>
<circle cx="315.4" cy="222.4" r="1.4" fill="#ff1a1a"/>
<circle cx="319.6" cy="222.9" r="1.4" fill="#ff1a1a"/>
<circle cx="324.1" cy="217.5" r="1.4" fill="#ff1a1a"/>
<circle cx="328.4" cy="222.2" r="1.4" fill="#ff1a1a"/>
<circle cx="333.1" cy="224" r="1.4" fill="#ff1a1a"/>
<circle cx="337" cy="223.5" r="1.4" fill="#ff1a1a"/>
<circle cx="341.9" cy="219.3" r="1.4" fill="#ff1a1a"/>
<circle cx="346.3" cy="223.8" r="1.4" fill="#ff1a1a"/>
<circle cx="351" cy="223.8" r="1.4" fill="#ff1a1a"/>
<circle cx="356.9" cy="224.3" r="1.4" fill="#ff1a1a"/>
<circle cx="360.6" cy="223.1" r="1.4" fill="#ff1a1a"/>
<circle cx="364.8" cy="224.3" r="1.4" fill="#ff1a1a"/>
<circle cx="368.6" cy="223.1" r="1.4" fill="#ff1a1a"/>
<circle cx="373" cy="223.8" r="1.4" fill="#ff1a1a"/>
<circle cx="377" cy="219.9" r="1.4" fill="#ff1a1a"/>
<line x1="70.1" y1="192.3" x2="70.1" y2="339.2" stroke="#000" stroke-width="1.6" />
<line x1="69.3" y1="338.4" x2="378.9" y2="338.4" stroke="#000" stroke-width="1.6" />
<line x1="65.1" y1="192.3" x2="70.1" y2="192.3" stroke="#000" stroke-width="1.5" />
<text x="62.9" y="195.9" font-size="10" text-anchor="end" font-weight="bold" fill="#000" stroke="#000" stroke-width="0.1" >0.5</text>
<line x1="65.1" y1="228.7" x2="70.1" y2="228.7" stroke="#000" stroke-width="1.5" />
<text x="63.1" y="232.3" font-size="10" text-anchor="end" font-weight="bold" fill="#000" stroke="#000" stroke-width="0.1" >0.25</text>
<line x1="65.1" y1="265.1" x2="70.1" y2="265.1" stroke="#000" stroke-width="1.5" />
<text x="60.7" y="268.7" font-size="10" text-anchor="end" font-weight="bold" fill="#000" stroke="#000" stroke-width="0.1" >0</text>
<line x1="65.1" y1="301.6" x2="70.1" y2="301.6" stroke="#000" stroke-width="1.5" />
<text x="64" y="305.2" font-size="10" text-anchor="end" font-weight="bold" fill="#000" stroke="#000" stroke-width="0.1" >-0.25</text>
<line x1="65.1" y1="338.4" x2="70.1" y2="338.4" stroke="#000" stroke-width="1.5" />
<text x="63.4" y="342" font-size="10" text-anchor="end" font-weight="bold" fill="#000" stroke="#000" stroke-width="0.1" >-0.5</text>
<line x1="70.5" y1="338.4" x2="70.5" y2="343.4" stroke="#000" stroke-width="1.5" />
<text x="71.3" y="354.5" font-size="10" text-anchor="middle" font-weight="bold" fill="#000" stroke="#000" stroke-width="0.1" >0</text>
<line x1="158.9" y1="338.4" x2="158.9" y2="343.4" stroke="#000" stroke-width="1.5" />
<text x="159.7" y="354.5" font-size="10" text-anchor="middle" font-weight="bold" fill="#000" stroke="#000" stroke-width="0.1" >50</text>
<line x1="248" y1="338.4" x2="248" y2="343.4" stroke="#000" stroke-width="1.5" />
<text x="248.8" y="354.5" font-size="10" text-anchor="middle" font-weight="bold" fill="#000" stroke="#000" stroke-width="0.1" >100</text>
<line x1="336.7" y1="338.4" x2="336.7" y2="343.4" stroke="#000" stroke-width="1.5" />
<text x="337.5" y="354.5" font-size="10" text-anchor="middle" font-weight="bold" fill="#000" stroke="#000" stroke-width="0.1" >150</text>
<text x="224.5" y="366.4" font-size="10" text-anchor="middle" font-weight="bold" fill="#000" stroke="#000" stroke-width="0.1" >Time [s]</text>
<text x="40.5" y="264.8" font-size="10" text-anchor="middle" font-weight="bold" fill="#000" stroke="#000" stroke-width="0.1" transform="rotate(-90 40.5 264.8)" >Signal strength [-]</text>
<text x="407.8" y="184" font-size="10" text-anchor="start" font-weight="bold" fill="#000" stroke="#000" stroke-width="0.1" >(d)</text>
<rect x="472.71" y="331.23" width="1.9" height="1.9" fill="#ff2020"/>
<rect x="477.07" y="325.11" width="1.9" height="1.9" fill="#ff2020"/>
<rect x="481.43" y="319.37" width="1.9" height="1.9" fill="#ff2020"/>
<rect x="485.79" y="313.97" width="1.9" height="1.9" fill="#ff2020"/>
<rect x="490.15" y="308.91" width="1.9" height="1.9" fill="#ff2020"/>
<rect x="494.51" y="304.15" width="1.9" height="1.9" fill="#ff2020"/>
<rect x="498.87" y="299.67" width="1.9" height="1.9" fill="#ff2020"/>
<rect x="503.23" y="295.47" width="1.9" height="1.9" fill="#ff2020"/>
<rect x="507.59" y="291.52" width="1.9" height="1.9" fill="#ff2020"/>
<rect x="511.95" y="287.81" width="1.9" height="1.9" fill="#ff2020"/>
<rect x="516.31" y="284.31" width="1.9" height="1.9" fill="#ff2020"/>
<rect x="520.67" y="281.03" width="1.9" height="1.9" fill="#ff2020"/>
<rect x="525.03" y="277.94" width="1.9" height="1.9" fill="#ff2020"/>
<rect x="529.39" y="275.04" width="1.9" height="1.9" fill="#ff2020"/>
<rect x="533.75" y="272.3" width="1.9" height="1.9" fill="#ff2020"/>
<rect x="538.11" y="269.73" width="1.9" height="1.9" fill="#ff2020"/>
<rect x="542.47" y="267.3" width="1.9" height="1.9" fill="#ff2020"/>
<rect x="546.83" y="265.02" width="1.9" height="1.9" fill="#ff2020"/>
<rect x="551.19" y="262.87" width="1.9" height="1.9" fill="#ff2020"/>
<rect x="555.55" y="260.84" width="1.9" height="1.9" fill="#ff2020"/>
<rect x="559.91" y="258.93" width="1.9" height="1.9" fill="#ff2020"/>
<rect x="564.27" y="257.13" width="1.9" height="1.9" fill="#ff2020"/>
<rect x="568.63" y="255.43" width="1.9" height="1.9" fill="#ff2020"/>
<rect x="572.99" y="253.82" width="1.9" height="1.9" fill="#ff2020"/>
<rect x="577.35" y="252.3" width="1.9" height="1.9" fill="#ff2020"/>
<rect x="581.71" y="250.87" width="1.9" height="1.9" fill="#ff2020"/>
<rect x="586.07" y="249.52" width="1.9" height="1.9" fill="#ff2020"/>
<rect x="590.43" y="248.24" width="1.9" height="1.9" fill="#ff2020"/>
<rect x="594.79" y="247.03" width="1.9" height="1.9" fill="#ff2020"/>
<rect x="599.15" y="245.88" width="1.9" height="1.9" fill="#ff2020"/>
<rect x="603.51" y="244.79" width="1.9" height="1.9" fill="#ff2020"/>
<rect x="607.87" y="243.77" width="1.9" height="1.9" fill="#ff2020"/>
<rect x="612.23" y="242.79" width="1.9" height="1.9" fill="#ff2020"/>
<rect x="616.59" y="241.86" width="1.9" height="1.9" fill="#ff2020"/>
<rect x="620.95" y="240.98" width="1.9" height="1.9" fill="#ff2020"/>
<rect x="625.31" y="240.15" width="1.9" height="1.9" fill="#ff2020"/>
<rect x="629.67" y="239.35" width="1.9" height="1.9" fill="#ff2020"/>
<rect x="634.03" y="238.6" width="1.9" height="1.9" fill="#ff2020"/>
<rect x="638.39" y="237.88" width="1.9" height="1.9" fill="#ff2020"/>
<rect x="642.75" y="237.19" width="1.9" height="1.9" fill="#ff2020"/>
<rect x="647.11" y="236.54" width="1.9" height="1.9" fill="#ff2020"/>
<rect x="651.47" y="235.91" width="1.9" height="1.9" fill="#ff2020"/>
<rect x="655.83" y="235.31" width="1.9" height="1.9" fill="#ff2020"/>
<rect x="660.19" y="234.74" width="1.9" height="1.9" fill="#ff2020"/>
<rect x="664.55" y="234.2" width="1.9" height="1.9" fill="#ff2020"/>
<rect x="668.91" y="233.67" width="1.9" height="1.9" fill="#ff2020"/>
<rect x="673.27" y="233.17" width="1.9" height="1.9" fill="#ff2020"/>
<rect x="677.63" y="232.69" width="1.9" height="1.9" fill="#ff2020"/>
<rect x="681.99" y="232.22" width="1.9" height="1.9" fill="#ff2020"/>
<rect x="686.35" y="231.78" width="1.9" height="1.9" fill="#ff2020"/>
<rect x="690.71" y="231.35" width="1.9" height="1.9" fill="#ff2020"/>
<rect x="695.07" y="230.93" width="1.9" height="1.9" fill="#ff2020"/>
<rect x="699.43" y="230.53" width="1.9" height="1.9" fill="#ff2020"/>
<rect x="703.79" y="230.15" width="1.9" height="1.9" fill="#ff2020"/>
<rect x="708.15" y="229.78" width="1.9" height="1.9" fill="#ff2020"/>
<rect x="712.51" y="229.41" width="1.9" height="1.9" fill="#ff2020"/>
<rect x="716.87" y="229.06" width="1.9" height="1.9" fill="#ff2020"/>
<rect x="721.23" y="228.72" width="1.9" height="1.9" fill="#ff2020"/>
<rect x="725.59" y="228.4" width="1.9" height="1.9" fill="#ff2020"/>
<rect x="729.95" y="228.07" width="1.9" height="1.9" fill="#ff2020"/>
<rect x="734.31" y="227.76" width="1.9" height="1.9" fill="#ff2020"/>
<rect x="738.67" y="227.46" width="1.9" height="1.9" fill="#ff2020"/>
<rect x="743.03" y="227.16" width="1.9" height="1.9" fill="#ff2020"/>
<rect x="747.39" y="226.87" width="1.9" height="1.9" fill="#ff2020"/>
<rect x="751.75" y="226.59" width="1.9" height="1.9" fill="#ff2020"/>
<rect x="756.11" y="226.32" width="1.9" height="1.9" fill="#ff2020"/>
<rect x="760.47" y="226.05" width="1.9" height="1.9" fill="#ff2020"/>
<rect x="764.83" y="225.78" width="1.9" height="1.9" fill="#ff2020"/>
<rect x="769.19" y="225.52" width="1.9" height="1.9" fill="#ff2020"/>
<rect x="773.55" y="225.27" width="1.9" height="1.9" fill="#ff2020"/>
<rect x="777.91" y="225.02" width="1.9" height="1.9" fill="#ff2020"/>
<rect x="472.71" y="330.41" width="1.9" height="1.9" fill="#ff20ff"/>
<rect x="477.07" y="323.56" width="1.9" height="1.9" fill="#ff20ff"/>
<rect x="481.43" y="317.17" width="1.9" height="1.9" fill="#ff20ff"/>
<rect x="485.79" y="311.21" width="1.9" height="1.9" fill="#ff20ff"/>
<rect x="490.15" y="305.64" width="1.9" height="1.9" fill="#ff20ff"/>
<rect x="494.51" y="300.45" width="1.9" height="1.9" fill="#ff20ff"/>
<rect x="498.87" y="295.61" width="1.9" height="1.9" fill="#ff20ff"/>
<rect x="503.23" y="291.08" width="1.9" height="1.9" fill="#ff20ff"/>
<rect x="507.59" y="286.86" width="1.9" height="1.9" fill="#ff20ff"/>
<rect x="511.95" y="282.91" width="1.9" height="1.9" fill="#ff20ff"/>
<rect x="516.31" y="279.23" width="1.9" height="1.9" fill="#ff20ff"/>
<rect x="520.67" y="275.79" width="1.9" height="1.9" fill="#ff20ff"/>
<rect x="525.03" y="272.57" width="1.9" height="1.9" fill="#ff20ff"/>
<rect x="529.39" y="269.56" width="1.9" height="1.9" fill="#ff20ff"/>
<rect x="533.75" y="266.75" width="1.9" height="1.9" fill="#ff20ff"/>
<rect x="538.11" y="264.12" width="1.9" height="1.9" fill="#ff20ff"/>
<rect x="542.47" y="261.66" width="1.9" height="1.9" fill="#ff20ff"/>
<rect x="546.83" y="259.36" width="1.9" height="1.9" fill="#ff20ff"/>
<rect x="551.19" y="257.2" width="1.9" height="1.9" fill="#ff20ff"/>
<rect x="555.55" y="255.18" width="1.9" height="1.9" fill="#ff20ff"/>
<rect x="559.91" y="253.29" width="1.9" height="1.9" fill="#ff20ff"/>
<rect x="564.27" y="251.51" width="1.9" height="1.9" fill="#ff20ff"/>
<rect x="568.63" y="249.85" width="1.9" height="1.9" fill="#ff20ff"/>
<rect x="572.99" y="248.29" width="1.9" height="1.9" fill="#ff20ff"/>
<rect x="577.35" y="246.82" width="1.9" height="1.9" fill="#ff20ff"/>
<rect x="581.71" y="245.45" width="1.9" height="1.9" fill="#ff20ff"/>
<rect x="586.07" y="244.16" width="1.9" height="1.9" fill="#ff20ff"/>
<rect x="590.43" y="242.94" width="1.9" height="1.9" fill="#ff20ff"/>
<rect x="594.79" y="241.8" width="1.9" height="1.9" fill="#ff20ff"/>
<rect x="599.15" y="240.72" width="1.9" height="1.9" fill="#ff20ff"/>
<rect x="603.51" y="239.71" width="1.9" height="1.9" fill="#ff20ff"/>
<rect x="607.87" y="238.75" width="1.9" height="1.9" fill="#ff20ff"/>
<rect x="612.23" y="237.85" width="1.9" height="1.9" fill="#ff20ff"/>
<rect x="616.59" y="237" width="1.9" height="1.9" fill="#ff20ff"/>
<rect x="620.95" y="236.19" width="1.9" height="1.9" fill="#ff20ff"/>
<rect x="625.31" y="235.43" width="1.9" height="1.9" fill="#ff20ff"/>
<rect x="629.67" y="234.71" width="1.9" height="1.9" fill="#ff20ff"/>
<rect x="634.03" y="234.03" width="1.9" height="1.9" fill="#ff20ff"/>
<rect x="638.39" y="233.38" width="1.9" height="1.9" fill="#ff20ff"/>
<rect x="642.75" y="232.77" width="1.9" height="1.9" fill="#ff20ff"/>
<rect x="647.11" y="232.18" width="1.9" height="1.9" fill="#ff20ff"/>
<rect x="651.47" y="231.63" width="1.9" height="1.9" fill="#ff20ff"/>
<rect x="655.83" y="231.1" width="1.9" height="1.9" fill="#ff20ff"/>
<rect x="660.19" y="230.59" width="1.9" height="1.9" fill="#ff20ff"/>
<rect x="664.55" y="230.11" width="1.9" height="1.9" fill="#ff20ff"/>
<rect x="668.91" y="229.65" width="1.9" height="1.9" fill="#ff20ff"/>
<rect x="673.27" y="229.21" width="1.9" height="1.9" fill="#ff20ff"/>
<rect x="677.63" y="228.79" width="1.9" height="1.9" fill="#ff20ff"/>
<rect x="681.99" y="228.39" width="1.9" height="1.9" fill="#ff20ff"/>
<rect x="686.35" y="228" width="1.9" height="1.9" fill="#ff20ff"/>
<rect x="690.71" y="227.62" width="1.9" height="1.9" fill="#ff20ff"/>
<rect x="695.07" y="227.27" width="1.9" height="1.9" fill="#ff20ff"/>
<rect x="699.43" y="226.92" width="1.9" height="1.9" fill="#ff20ff"/>
<rect x="703.79" y="226.59" width="1.9" height="1.9" fill="#ff20ff"/>
<rect x="708.15" y="226.26" width="1.9" height="1.9" fill="#ff20ff"/>
<rect x="712.51" y="225.95" width="1.9" height="1.9" fill="#ff20ff"/>
<rect x="716.87" y="225.65" width="1.9" height="1.9" fill="#ff20ff"/>
<rect x="721.23" y="225.35" width="1.9" height="1.9" fill="#ff20ff"/>
<rect x="725.59" y="225.07" width="1.9" height="1.9" fill="#ff20ff"/>
<rect x="729.95" y="224.79" width="1.9" height="1.9" fill="#ff20ff"/>
<rect x="734.31" y="224.52" width="1.9" height="1.9" fill="#ff20ff"/>
<rect x="738.67" y="224.26" width="1.9" height="1.9" fill="#ff20ff"/>
<rect x="743.03" y="224" width="1.9" height="1.9" fill="#ff20ff"/>
<rect x="747.39" y="223.75" width="1.9" height="1.9" fill="#ff20ff"/>
<rect x="751.75" y="223.51" width="1.9" height="1.9" fill="#ff20ff"/>
<rect x="756.11" y="223.27" width="1.9" height="1.9" fill="#ff20ff"/>
<rect x="760.47" y="223.03" width="1.9" height="1.9" fill="#ff20ff"/>
<rect x="764.83" y="222.8" width="1.9" height="1.9" fill="#ff20ff"/>
<rect x="769.19" y="222.57" width="1.9" height="1.9" fill="#ff20ff"/>
<rect x="773.55" y="222.35" width="1.9" height="1.9" fill="#ff20ff"/>
<rect x="777.91" y="222.13" width="1.9" height="1.9" fill="#ff20ff"/>
<rect x="472.71" y="330.94" width="1.9" height="1.9" fill="#2020ff"/>
<rect x="477.07" y="324.52" width="1.9" height="1.9" fill="#2020ff"/>
<rect x="481.43" y="318.47" width="1.9" height="1.9" fill="#2020ff"/>
<rect x="485.79" y="312.77" width="1.9" height="1.9" fill="#2020ff"/>
<rect x="490.15" y="307.39" width="1.9" height="1.9" fill="#2020ff"/>
<rect x="494.51" y="302.31" width="1.9" height="1.9" fill="#2020ff"/>
<rect x="498.87" y="297.53" width="1.9" height="1.9" fill="#2020ff"/>
<rect x="503.23" y="293.02" width="1.9" height="1.9" fill="#2020ff"/>
<rect x="507.59" y="288.76" width="1.9" height="1.9" fill="#2020ff"/>
<rect x="511.95" y="284.75" width="1.9" height="1.9" fill="#2020ff"/>
<rect x="516.31" y="280.96" width="1.9" height="1.9" fill="#2020ff"/>
<rect x="520.67" y="277.39" width="1.9" height="1.9" fill="#2020ff"/>
<rect x="525.03" y="274.02" width="1.9" height="1.9" fill="#2020ff"/>
<rect x="529.39" y="270.85" width="1.9" height="1.9" fill="#2020ff"/>
<rect x="533.75" y="267.85" width="1.9" height="1.9" fill="#2020ff"/>
<rect x="538.11" y="265.02" width="1.9" height="1.9" fill="#2020ff"/>
<rect x="542.47" y="262.35" width="1.9" height="1.9" fill="#2020ff"/>
<rect x="546.83" y="259.83" width="1.9" height="1.9" fill="#2020ff"/>
<rect x="551.19" y="257.45" width="1.9" height="1.9" fill="#2020ff"/>
<rect x="555.55" y="255.2" width="1.9" height="1.9" fill="#2020ff"/>
<rect x="559.91" y="253.08" width="1.9" height="1.9" fill="#2020ff"/>
<rect x="564.27" y="251.08" width="1.9" height="1.9" fill="#2020ff"/>
<rect x="568.63" y="249.19" width="1.9" height="1.9" fill="#2020ff"/>
<rect x="572.99" y="247.4" width="1.9" height="1.9" fill="#2020ff"/>
<rect x="577.35" y="245.72" width="1.9" height="1.9" fill="#2020ff"/>
<rect x="581.71" y="244.12" width="1.9" height="1.9" fill="#2020ff"/>
<rect x="586.07" y="242.62" width="1.9" height="1.9" fill="#2020ff"/>
<rect x="590.43" y="241.19" width="1.9" height="1.9" fill="#2020ff"/>
<rect x="594.79" y="239.85" width="1.9" height="1.9" fill="#2020ff"/>
<rect x="599.15" y="238.58" width="1.9" height="1.9" fill="#2020ff"/>
<rect x="603.51" y="237.37" width="1.9" height="1.9" fill="#2020ff"/>
<rect x="607.87" y="236.24" width="1.9" height="1.9" fill="#2020ff"/>
<rect x="612.23" y="235.16" width="1.9" height="1.9" fill="#2020ff"/>
<rect x="616.59" y="234.14" width="1.9" height="1.9" fill="#2020ff"/>
<rect x="620.95" y="233.18" width="1.9" height="1.9" fill="#2020ff"/>
<rect x="625.31" y="232.27" width="1.9" height="1.9" fill="#2020ff"/>
<rect x="629.67" y="231.4" width="1.9" height="1.9" fill="#2020ff"/>
<rect x="634.03" y="230.58" width="1.9" height="1.9" fill="#2020ff"/>
<rect x="638.39" y="229.81" width="1.9" height="1.9" fill="#2020ff"/>
<rect x="642.75" y="229.07" width="1.9" height="1.9" fill="#2020ff"/>
<rect x="647.11" y="228.38" width="1.9" height="1.9" fill="#2020ff"/>
<rect x="651.47" y="227.72" width="1.9" height="1.9" fill="#2020ff"/>
<rect x="655.83" y="227.09" width="1.9" height="1.9" fill="#2020ff"/>
<rect x="660.19" y="226.49" width="1.9" height="1.9" fill="#2020ff"/>
<rect x="664.55" y="225.93" width="1.9" height="1.9" fill="#2020ff"/>
<rect x="668.91" y="225.39" width="1.9" height="1.9" fill="#2020ff"/>
<rect x="673.27" y="224.88" width="1.9" height="1.9" fill="#2020ff"/>
<rect x="677.63" y="224.4" width="1.9" height="1.9" fill="#2020ff"/>
<rect x="681.99" y="223.94" width="1.9" height="1.9" fill="#2020ff"/>
<rect x="686.35" y="223.5" width="1.9" height="1.9" fill="#2020ff"/>
<rect x="690.71" y="223.08" width="1.9" height="1.9" fill="#2020ff"/>
<rect x="695.07" y="222.68" width="1.9" height="1.9" fill="#2020ff"/>
<rect x="699.43" y="222.3" width="1.9" height="1.9" fill="#2020ff"/>
<rect x="703.79" y="221.94" width="1.9" height="1.9" fill="#2020ff"/>
<rect x="708.15" y="221.59" width="1.9" height="1.9" fill="#2020ff"/>
<rect x="712.51" y="221.26" width="1.9" height="1.9" fill="#2020ff"/>
<rect x="716.87" y="220.95" width="1.9" height="1.9" fill="#2020ff"/>
<rect x="721.23" y="220.65" width="1.9" height="1.9" fill="#2020ff"/>
<rect x="725.59" y="220.36" width="1.9" height="1.9" fill="#2020ff"/>
<rect x="729.95" y="220.08" width="1.9" height="1.9" fill="#2020ff"/>
<rect x="734.31" y="219.82" width="1.9" height="1.9" fill="#2020ff"/>
<rect x="738.67" y="219.57" width="1.9" height="1.9" fill="#2020ff"/>
<rect x="743.03" y="219.32" width="1.9" height="1.9" fill="#2020ff"/>
<rect x="747.39" y="219.09" width="1.9" height="1.9" fill="#2020ff"/>
<rect x="751.75" y="218.87" width="1.9" height="1.9" fill="#2020ff"/>
<rect x="756.11" y="218.65" width="1.9" height="1.9" fill="#2020ff"/>
<rect x="760.47" y="218.44" width="1.9" height="1.9" fill="#2020ff"/>
<rect x="764.83" y="218.24" width="1.9" height="1.9" fill="#2020ff"/>
<rect x="769.19" y="218.05" width="1.9" height="1.9" fill="#2020ff"/>
<rect x="773.55" y="217.86" width="1.9" height="1.9" fill="#2020ff"/>
<rect x="777.91" y="217.68" width="1.9" height="1.9" fill="#2020ff"/>
<rect x="472.71" y="331.55" width="1.9" height="1.9" fill="#20f0f0"/>
<rect x="477.07" y="325.67" width="1.9" height="1.9" fill="#20f0f0"/>
<rect x="481.43" y="320.1" width="1.9" height="1.9" fill="#20f0f0"/>
<rect x="485.79" y="314.82" width="1.9" height="1.9" fill="#20f0f0"/>
<rect x="490.15" y="309.8" width="1.9" height="1.9" fill="#20f0f0"/>
<rect x="494.51" y="305.05" width="1.9" height="1.9" fill="#20f0f0"/>
<rect x="498.87" y="300.53" width="1.9" height="1.9" fill="#20f0f0"/>
<rect x="503.23" y="296.26" width="1.9" height="1.9" fill="#20f0f0"/>
<rect x="507.59" y="292.2" width="1.9" height="1.9" fill="#20f0f0"/>
<rect x="511.95" y="288.34" width="1.9" height="1.9" fill="#20f0f0"/>
<rect x="516.31" y="284.69" width="1.9" height="1.9" fill="#20f0f0"/>
<rect x="520.67" y="281.22" width="1.9" height="1.9" fill="#20f0f0"/>
<rect x="525.03" y="277.93" width="1.9" height="1.9" fill="#20f0f0"/>
<rect x="529.39" y="274.81" width="1.9" height="1.9" fill="#20f0f0"/>
<rect x="533.75" y="271.84" width="1.9" height="1.9" fill="#20f0f0"/>
<rect x="538.11" y="269.03" width="1.9" height="1.9" fill="#20f0f0"/>
<rect x="542.47" y="266.36" width="1.9" height="1.9" fill="#20f0f0"/>
<rect x="546.83" y="263.82" width="1.9" height="1.9" fill="#20f0f0"/>
<rect x="551.19" y="261.41" width="1.9" height="1.9" fill="#20f0f0"/>
<rect x="555.55" y="259.12" width="1.9" height="1.9" fill="#20f0f0"/>
<rect x="559.91" y="256.95" width="1.9" height="1.9" fill="#20f0f0"/>
<rect x="564.27" y="254.89" width="1.9" height="1.9" fill="#20f0f0"/>
<rect x="568.63" y="252.93" width="1.9" height="1.9" fill="#20f0f0"/>
<rect x="572.99" y="251.06" width="1.9" height="1.9" fill="#20f0f0"/>
<rect x="577.35" y="249.29" width="1.9" height="1.9" fill="#20f0f0"/>
<rect x="581.71" y="247.61" width="1.9" height="1.9" fill="#20f0f0"/>
<rect x="586.07" y="246.01" width="1.9" height="1.9" fill="#20f0f0"/>
<rect x="590.43" y="244.49" width="1.9" height="1.9" fill="#20f0f0"/>
<rect x="594.79" y="243.04" width="1.9" height="1.9" fill="#20f0f0"/>
<rect x="599.15" y="241.66" width="1.9" height="1.9" fill="#20f0f0"/>
<rect x="603.51" y="240.35" width="1.9" height="1.9" fill="#20f0f0"/>
<rect x="607.87" y="239.11" width="1.9" height="1.9" fill="#20f0f0"/>
<rect x="612.23" y="237.92" width="1.9" height="1.9" fill="#20f0f0"/>
<rect x="616.59" y="236.79" width="1.9" height="1.9" fill="#20f0f0"/>
<rect x="620.95" y="235.72" width="1.9" height="1.9" fill="#20f0f0"/>
<rect x="625.31" y="234.69" width="1.9" height="1.9" fill="#20f0f0"/>
<rect x="629.67" y="233.72" width="1.9" height="1.9" fill="#20f0f0"/>
<rect x="634.03" y="232.79" width="1.9" height="1.9" fill="#20f0f0"/>
<rect x="638.39" y="231.9" width="1.9" height="1.9" fill="#20f0f0"/>
<rect x="642.75" y="231.06" width="1.9" height="1.9" fill="#20f0f0"/>
<rect x="647.11" y="230.25" width="1.9" height="1.9" fill="#20f0f0"/>
<rect x="651.47" y="229.48" width="1.9" height="1.9" fill="#20f0f0"/>
<rect x="655.83" y="228.74" width="1.9" height="1.9" fill="#20f0f0"/>
<rect x="660.19" y="228.04" width="1.9" height="1.9" fill="#20f0f0"/>
<rect x="664.55" y="227.37" width="1.9" height="1.9" fill="#20f0f0"/>
<rect x="668.91" y="226.73" width="1.9" height="1.9" fill="#20f0f0"/>
<rect x="673.27" y="226.12" width="1.9" height="1.9" fill="#20f0f0"/>
<rect x="677.63" y="225.54" width="1.9" height="1.9" fill="#20f0f0"/>
<rect x="681.99" y="224.98" width="1.9" height="1.9" fill="#20f0f0"/>
<rect x="686.35" y="224.44" width="1.9" height="1.9" fill="#20f0f0"/>
<rect x="690.71" y="223.93" width="1.9" height="1.9" fill="#20f0f0"/>
<rect x="695.07" y="223.44" width="1.9" height="1.9" fill="#20f0f0"/>
<rect x="699.43" y="222.96" width="1.9" height="1.9" fill="#20f0f0"/>
<rect x="703.79" y="222.51" width="1.9" height="1.9" fill="#20f0f0"/>
<rect x="708.15" y="222.08" width="1.9" height="1.9" fill="#20f0f0"/>
<rect x="712.51" y="221.66" width="1.9" height="1.9" fill="#20f0f0"/>
<rect x="716.87" y="221.26" width="1.9" height="1.9" fill="#20f0f0"/>
<rect x="721.23" y="220.88" width="1.9" height="1.9" fill="#20f0f0"/>
<rect x="725.59" y="220.51" width="1.9" height="1.9" fill="#20f0f0"/>
<rect x="729.95" y="220.15" width="1.9" height="1.9" fill="#20f0f0"/>
<rect x="734.31" y="219.81" width="1.9" height="1.9" fill="#20f0f0"/>
<rect x="738.67" y="219.48" width="1.9" height="1.9" fill="#20f0f0"/>
<rect x="743.03" y="219.16" width="1.9" height="1.9" fill="#20f0f0"/>
<rect x="747.39" y="218.85" width="1.9" height="1.9" fill="#20f0f0"/>
<rect x="751.75" y="218.56" width="1.9" height="1.9" fill="#20f0f0"/>
<rect x="756.11" y="218.27" width="1.9" height="1.9" fill="#20f0f0"/>
<rect x="760.47" y="218" width="1.9" height="1.9" fill="#20f0f0"/>
<rect x="764.83" y="217.73" width="1.9" height="1.9" fill="#20f0f0"/>
<rect x="769.19" y="217.47" width="1.9" height="1.9" fill="#20f0f0"/>
<rect x="773.55" y="217.22" width="1.9" height="1.9" fill="#20f0f0"/>
<rect x="777.91" y="216.98" width="1.9" height="1.9" fill="#20f0f0"/>
<rect x="472.71" y="329.99" width="1.9" height="1.9" fill="#20e020"/>
<rect x="477.07" y="322.71" width="1.9" height="1.9" fill="#20e020"/>
<rect x="481.43" y="315.9" width="1.9" height="1.9" fill="#20e020"/>
<rect x="485.79" y="309.52" width="1.9" height="1.9" fill="#20e020"/>
<rect x="490.15" y="303.55" width="1.9" height="1.9" fill="#20e020"/>
<rect x="494.51" y="297.95" width="1.9" height="1.9" fill="#20e020"/>
<rect x="498.87" y="292.71" width="1.9" height="1.9" fill="#20e020"/>
<rect x="503.23" y="287.79" width="1.9" height="1.9" fill="#20e020"/>
<rect x="507.59" y="283.19" width="1.9" height="1.9" fill="#20e020"/>
<rect x="511.95" y="278.88" width="1.9" height="1.9" fill="#20e020"/>
<rect x="516.31" y="274.83" width="1.9" height="1.9" fill="#20e020"/>
<rect x="520.67" y="271.05" width="1.9" height="1.9" fill="#20e020"/>
<rect x="525.03" y="267.49" width="1.9" height="1.9" fill="#20e020"/>
<rect x="529.39" y="264.16" width="1.9" height="1.9" fill="#20e020"/>
<rect x="533.75" y="261.04" width="1.9" height="1.9" fill="#20e020"/>
<rect x="538.11" y="258.12" width="1.9" height="1.9" fill="#20e020"/>
<rect x="542.47" y="255.37" width="1.9" height="1.9" fill="#20e020"/>
<rect x="546.83" y="252.79" width="1.9" height="1.9" fill="#20e020"/>
<rect x="551.19" y="250.38" width="1.9" height="1.9" fill="#20e020"/>
<rect x="555.55" y="248.11" width="1.9" height="1.9" fill="#20e020"/>
<rect x="559.91" y="245.99" width="1.9" height="1.9" fill="#20e020"/>
<rect x="564.27" y="243.99" width="1.9" height="1.9" fill="#20e020"/>
<rect x="568.63" y="242.11" width="1.9" height="1.9" fill="#20e020"/>
<rect x="572.99" y="240.35" width="1.9" height="1.9" fill="#20e020"/>
<rect x="577.35" y="238.7" width="1.9" height="1.9" fill="#20e020"/>
<rect x="581.71" y="237.15" width="1.9" height="1.9" fill="#20e020"/>
<rect x="586.07" y="235.69" width="1.9" height="1.9" fill="#20e020"/>
<rect x="590.43" y="234.32" width="1.9" height="1.9" fill="#20e020"/>
<rect x="594.79" y="233.03" width="1.9" height="1.9" fill="#20e020"/>
<rect x="599.15" y="231.81" width="1.9" height="1.9" fill="#20e020"/>
<rect x="603.51" y="230.67" width="1.9" height="1.9" fill="#20e020"/>
<rect x="607.87" y="229.6" width="1.9" height="1.9" fill="#20e020"/>
<rect x="612.23" y="228.59" width="1.9" height="1.9" fill="#20e020"/>
<rect x="616.59" y="227.63" width="1.9" height="1.9" fill="#20e020"/>
<rect x="620.95" y="226.74" width="1.9" height="1.9" fill="#20e020"/>
<rect x="625.31" y="225.89" width="1.9" height="1.9" fill="#20e020"/>
<rect x="629.67" y="225.09" width="1.9" height="1.9" fill="#20e020"/>
<rect x="634.03" y="224.34" width="1.9" height="1.9" fill="#20e020"/>
<rect x="638.39" y="223.63" width="1.9" height="1.9" fill="#20e020"/>
<rect x="642.75" y="222.96" width="1.9" height="1.9" fill="#20e020"/>
<rect x="647.11" y="222.33" width="1.9" height="1.9" fill="#20e020"/>
<rect x="651.47" y="221.73" width="1.9" height="1.9" fill="#20e020"/>
<rect x="655.83" y="221.16" width="1.9" height="1.9" fill="#20e020"/>
<rect x="660.19" y="220.62" width="1.9" height="1.9" fill="#20e020"/>
<rect x="664.55" y="220.11" width="1.9" height="1.9" fill="#20e020"/>
<rect x="668.91" y="219.63" width="1.9" height="1.9" fill="#20e020"/>
<rect x="673.27" y="219.17" width="1.9" height="1.9" fill="#20e020"/>
<rect x="677.63" y="218.74" width="1.9" height="1.9" fill="#20e020"/>
<rect x="681.99" y="218.33" width="1.9" height="1.9" fill="#20e020"/>
<rect x="686.35" y="217.94" width="1.9" height="1.9" fill="#20e020"/>
<rect x="690.71" y="217.56" width="1.9" height="1.9" fill="#20e020"/>
<rect x="695.07" y="217.21" width="1.9" height="1.9" fill="#20e020"/>
<rect x="699.43" y="216.87" width="1.9" height="1.9" fill="#20e020"/>
<rect x="703.79" y="216.55" width="1.9" height="1.9" fill="#20e020"/>
<rect x="708.15" y="216.24" width="1.9" height="1.9" fill="#20e020"/>
<rect x="712.51" y="215.94" width="1.9" height="1.9" fill="#20e020"/>
<rect x="716.87" y="215.66" width="1.9" height="1.9" fill="#20e020"/>
<rect x="721.23" y="215.39" width="1.9" height="1.9" fill="#20e020"/>
<rect x="725.59" y="215.13" width="1.9" height="1.9" fill="#20e020"/>
<rect x="729.95" y="214.89" width="1.9" height="1.9" fill="#20e020"/>
<rect x="734.31" y="214.65" width="1.9" height="1.9" fill="#20e020"/>
<rect x="738.67" y="214.42" width="1.9" height="1.9" fill="#20e020"/>
<rect x="743.03" y="214.2" width="1.9" height="1.9" fill="#20e020"/>
<rect x="747.39" y="213.98" width="1.9" height="1.9" fill="#20e020"/>
<rect x="751.75" y="213.78" width="1.9" height="1.9" fill="#20e020"/>
<rect x="756.11" y="213.58" width="1.9" height="1.9" fill="#20e020"/>
<rect x="760.47" y="213.39" width="1.9" height="1.9" fill="#20e020"/>
<rect x="764.83" y="213.2" width="1.9" height="1.9" fill="#20e020"/>
<rect x="769.19" y="213.02" width="1.9" height="1.9" fill="#20e020"/>
<rect x="773.55" y="212.85" width="1.9" height="1.9" fill="#20e020"/>
<rect x="777.91" y="212.68" width="1.9" height="1.9" fill="#20e020"/>
<polyline points="469.3,338.7 471.19,335.72 473.07,332.82 474.96,330 476.84,327.24 478.73,324.55 480.62,321.94 482.5,319.39 484.39,316.9 486.27,314.48 488.16,312.11 490.05,309.81 491.93,307.57 493.82,305.38 495.7,303.25 497.59,301.17 499.48,299.14 501.36,297.17 503.25,295.25 505.13,293.37 507.02,291.54 508.91,289.76 510.79,288.02 512.68,286.33 514.56,284.68 516.45,283.07 518.34,281.5 520.22,279.97 522.11,278.48 523.99,277.02 525.88,275.61 527.77,274.22 529.65,272.88 531.54,271.56 533.42,270.28 535.31,269.03 537.2,267.82 539.08,266.63 540.97,265.47 542.85,264.34 544.74,263.24 546.63,262.17 548.51,261.12 550.4,260.1 552.28,259.11 554.17,258.14 556.06,257.19 557.94,256.27 559.83,255.37 561.71,254.49 563.6,253.63 565.49,252.8 567.37,251.98 569.26,251.19 571.14,250.41 573.03,249.66 574.92,248.92 576.8,248.2 578.69,247.5 580.57,246.81 582.46,246.15 584.35,245.49 586.23,244.86 588.12,244.24 590,243.63 591.89,243.04 593.78,242.47 595.66,241.9 597.55,241.35 599.43,240.82 601.32,240.3 603.21,239.79 605.09,239.29 606.98,238.8 608.86,238.33 610.75,237.86 612.64,237.41 614.52,236.97 616.41,236.54 618.29,236.12 620.18,235.71 622.07,235.3 623.95,234.91 625.84,234.53 627.72,234.15 629.61,233.79 631.5,233.43 633.38,233.08 635.27,232.74 637.15,232.41 639.04,232.09 640.93,231.77 642.81,231.46 644.7,231.16 646.58,230.86 648.47,230.57 650.36,230.29 652.24,230.01 654.13,229.74 656.01,229.48 657.9,229.22 659.79,228.96 661.67,228.72 663.56,228.48 665.44,228.24 667.33,228.01 669.22,227.78 671.1,227.56 672.99,227.34 674.87,227.13 676.76,226.92 678.65,226.72 680.53,226.52 682.42,226.33 684.3,226.14 686.19,225.95 688.08,225.77 689.96,225.59 691.85,225.42 693.73,225.24 695.62,225.08 697.51,224.91 699.39,224.75 701.28,224.59 703.16,224.44 705.05,224.29 706.94,224.14 708.82,223.99 710.71,223.85 712.59,223.71 714.48,223.57 716.37,223.44 718.25,223.3 720.14,223.18 722.02,223.05 723.91,222.92 725.8,222.8 727.68,222.68 729.57,222.56 731.45,222.45 733.34,222.33 735.23,222.22 737.11,222.11 739,222 740.88,221.9 742.77,221.79 744.66,221.69 746.54,221.59 748.43,221.49 750.31,221.39 752.2,221.29 754.09,221.2 755.97,221.11 757.86,221.02 759.74,220.93 761.63,220.84 763.52,220.75 765.4,220.66 767.29,220.58 769.17,220.5 771.06,220.41 772.95,220.33 774.83,220.25 776.72,220.18 778.6,220.1" fill="none" stroke="#ff7070" stroke-width="0.9" stroke-linejoin="round" />
<line x1="469.8" y1="192" x2="469.8" y2="343.7" stroke="#000" stroke-width="1.6" />
<line x1="464.8" y1="338.7" x2="779" y2="338.7" stroke="#000" stroke-width="1.6" />
<line x1="464.8" y1="192" x2="469.8" y2="192" stroke="#000" stroke-width="1.5" />
<text x="461.2" y="195.6" font-size="10" text-anchor="end" font-weight="bold" fill="#000" stroke="#000" stroke-width="0.1" >30</text>
<line x1="464.8" y1="240.9" x2="469.8" y2="240.9" stroke="#000" stroke-width="1.5" />
<text x="461.8" y="244.5" font-size="10" text-anchor="end" font-weight="bold" fill="#000" stroke="#000" stroke-width="0.1" >20</text>
<line x1="464.8" y1="289.9" x2="469.8" y2="289.9" stroke="#000" stroke-width="1.5" />
<text x="461.2" y="293.5" font-size="10" text-anchor="end" font-weight="bold" fill="#000" stroke="#000" stroke-width="0.1" >10</text>
<text x="460.4" y="342.4" font-size="10" text-anchor="end" font-weight="bold" fill="#000" stroke="#000" stroke-width="0.1" >0</text>
<text x="469.7" y="353.2" font-size="10" text-anchor="middle" font-weight="bold" fill="#000" stroke="#000" stroke-width="0.1" >0</text>
<line x1="563.5" y1="338.7" x2="563.5" y2="343.7" stroke="#000" stroke-width="1.5" />
<text x="563.9" y="353.2" font-size="10" text-anchor="middle" font-weight="bold" fill="#000" stroke="#000" stroke-width="0.1" >5</text>
<line x1="657.7" y1="338.7" x2="657.7" y2="343.7" stroke="#000" stroke-width="1.5" />
<text x="658.1" y="353.2" font-size="10" text-anchor="middle" font-weight="bold" fill="#000" stroke="#000" stroke-width="0.1" >10</text>
<line x1="751.9" y1="338.7" x2="751.9" y2="343.7" stroke="#000" stroke-width="1.5" />
<text x="752.3" y="353.2" font-size="10" text-anchor="middle" font-weight="bold" fill="#000" stroke="#000" stroke-width="0.1" >15</text>
<text x="626" y="365" font-size="10.35" text-anchor="middle" font-weight="bold" fill="#000" stroke="#000" stroke-width="0.1" >Cumulative Energy [J]</text>
<text x="445.6" y="255.3" font-size="10.3" text-anchor="middle" font-weight="bold" fill="#000" stroke="#000" stroke-width="0.1" transform="rotate(-90 445.6 255.3)" >Insertion Depth [mm]</text>
<rect x="473.5" y="196.6" width="43.2" height="43" fill="#fff" stroke="#c4c4c4" stroke-width="0.9"/>
<circle cx="483.6" cy="201" r="1.4" fill="#ff0000"/>
<text x="493.6" y="202.8" font-size="5" text-anchor="start" font-weight="normal" fill="#222" >Sample 1</text>
<circle cx="483.6" cy="207.88" r="1.4" fill="#0000ff"/>
<text x="493.6" y="209.68" font-size="5" text-anchor="start" font-weight="normal" fill="#222" >Sample 2</text>
<circle cx="483.6" cy="214.76" r="1.4" fill="#ff00ff"/>
<text x="493.6" y="216.56" font-size="5" text-anchor="start" font-weight="normal" fill="#222" >Sample 3</text>
<circle cx="483.6" cy="221.64" r="1.4" fill="#00ee00"/>
<text x="493.6" y="223.44" font-size="5" text-anchor="start" font-weight="normal" fill="#222" >Sample 4</text>
<circle cx="483.6" cy="228.52" r="1.4" fill="#00ffff"/>
<text x="493.6" y="230.32" font-size="5" text-anchor="start" font-weight="normal" fill="#222" >Sample 5</text>
<line x1="475.6" y1="235.5" x2="491.9" y2="235.5" stroke="#ff5050" stroke-width="0.7" />
<text x="493.6" y="237.3" font-size="5" text-anchor="start" font-weight="normal" fill="#222" >Fitted line</text>
</svg></body></html>
